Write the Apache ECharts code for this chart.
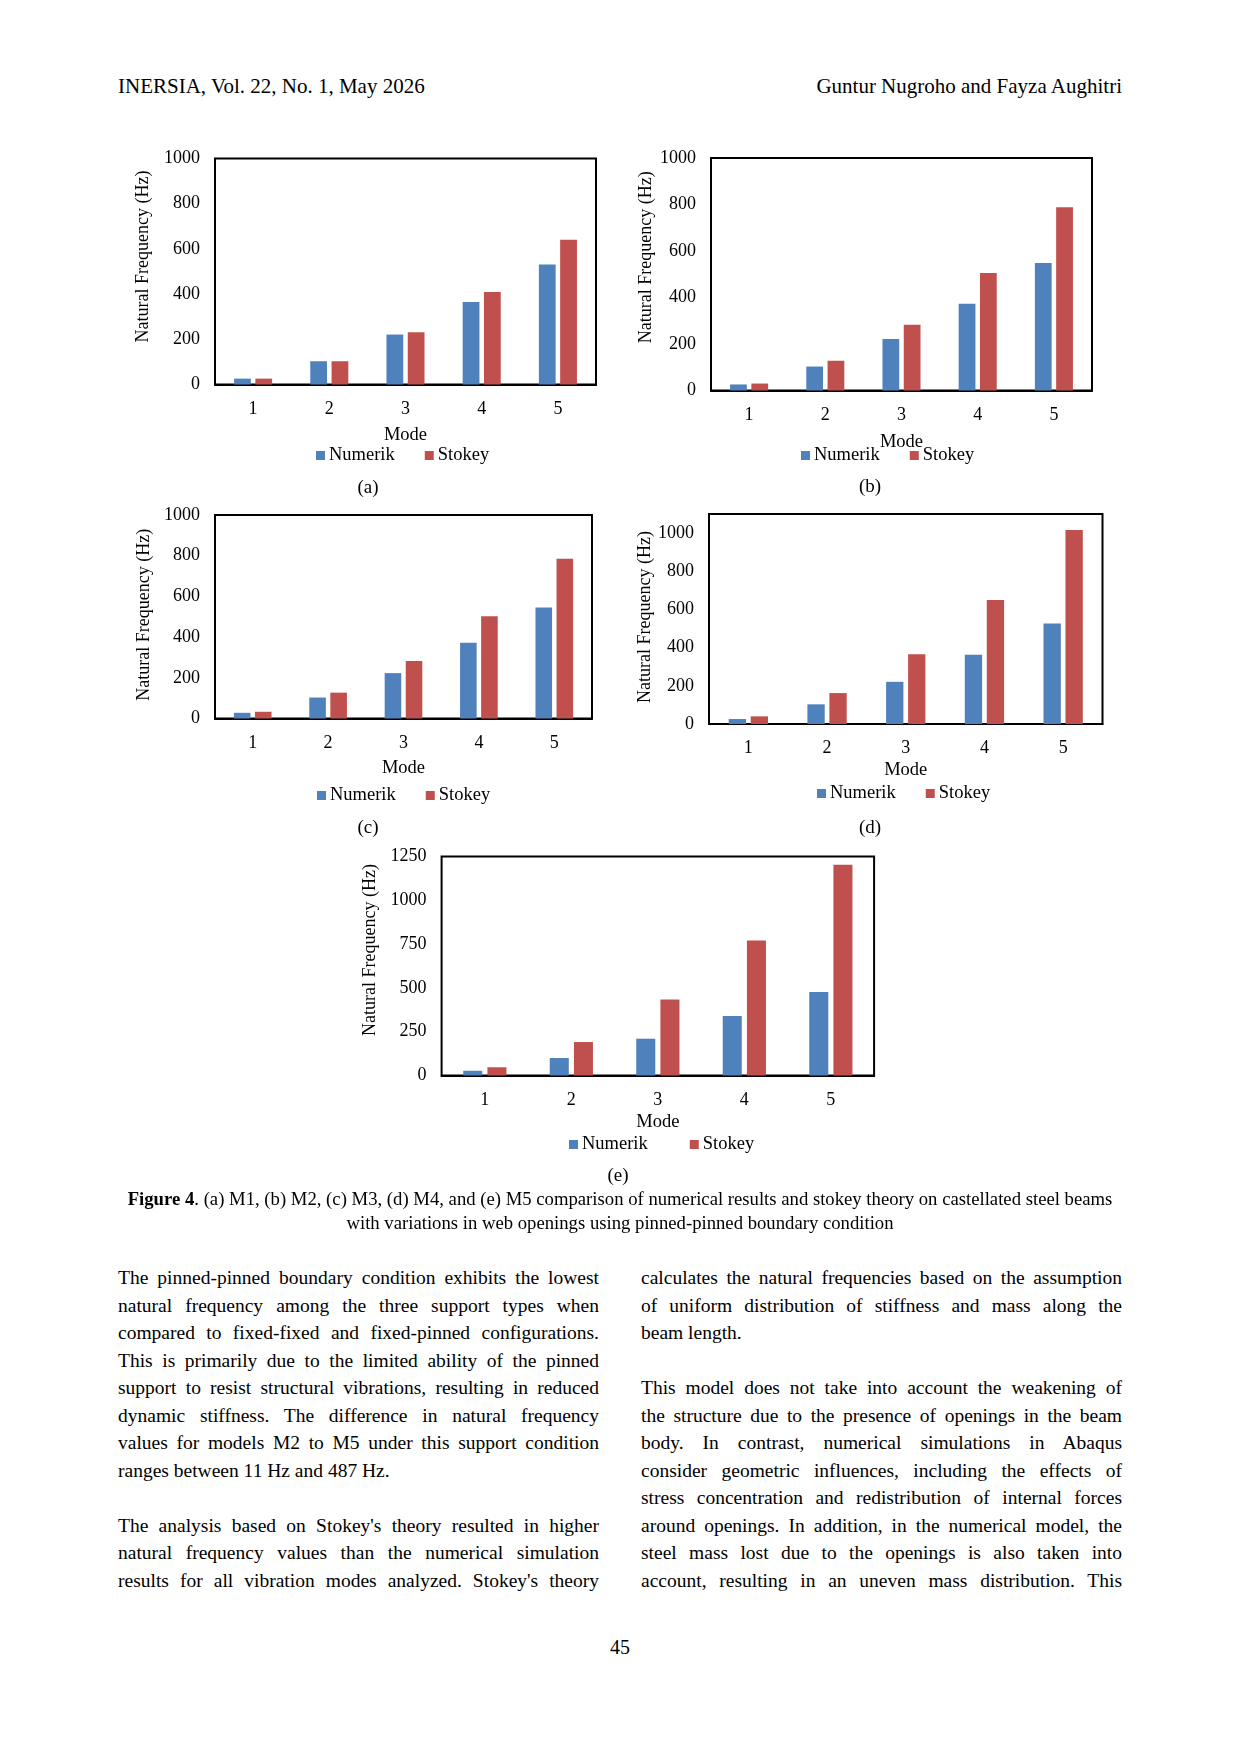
<!DOCTYPE html>
<html>
<head>
<meta charset="utf-8">
<title>Figure 4</title>
<script src="https://cdn.jsdelivr.net/npm/echarts@6/dist/echarts.min.js"></script>
<style>
  html, body { margin: 0; padding: 0; background: #fff; }
  body { width: 1240px; height: 1754px; position: relative; font-family: 'Liberation Serif', 'Times New Roman', serif; color: #000; }
  #chart { position: absolute; left: 0; top: 0; width: 1240px; height: 1200px; }
  .txt { position: absolute; white-space: nowrap; }
  .col { position: absolute; width: 481px; font-size: 19.5px; line-height: 27.5px; }
  .col div { height: 27.5px; text-align: justify; text-align-last: justify; }
  .col div.end { text-align-last: left; }
  .cap { position: absolute; left: 0; width: 1240px; text-align: center; font-size: 18.7px; }
</style>
</head>
<body>
<div class="txt" style="left:118px; top:74px; font-size:21px;">INERSIA, Vol. 22, No. 1, May 2026</div>
<div class="txt" style="right:118px; top:74px; font-size:21px;">Guntur Nugroho and Fayza Aughitri</div>

<div id="chart"></div>

<div class="cap" style="top:1188px;"><b>Figure 4</b>. (a) M1, (b) M2, (c) M3, (d) M4, and (e) M5 comparison of numerical results and stokey theory on castellated steel beams</div>
<div class="cap" style="top:1212px;">with variations in web openings using pinned-pinned boundary condition</div>

<div class="col" style="left:118px; top:1264px;">
  <div>The pinned-pinned boundary condition exhibits the lowest</div>
  <div>natural frequency among the three support types when</div>
  <div>compared to fixed-fixed and fixed-pinned configurations.</div>
  <div>This is primarily due to the limited ability of the pinned</div>
  <div>support to resist structural vibrations, resulting in reduced</div>
  <div>dynamic stiffness. The difference in natural frequency</div>
  <div>values for models M2 to M5 under this support condition</div>
  <div class="end">ranges between 11 Hz and 487 Hz.</div>
  <div class="end"></div>
  <div>The analysis based on Stokey's theory resulted in higher</div>
  <div>natural frequency values than the numerical simulation</div>
  <div>results for all vibration modes analyzed. Stokey's theory</div>
</div>

<div class="col" style="left:641px; top:1264px;">
  <div>calculates the natural frequencies based on the assumption</div>
  <div>of uniform distribution of stiffness and mass along the</div>
  <div class="end">beam length.</div>
  <div class="end"></div>
  <div>This model does not take into account the weakening of</div>
  <div>the structure due to the presence of openings in the beam</div>
  <div>body. In contrast, numerical simulations in Abaqus</div>
  <div>consider geometric influences, including the effects of</div>
  <div>stress concentration and redistribution of internal forces</div>
  <div>around openings. In addition, in the numerical model, the</div>
  <div>steel mass lost due to the openings is also taken into</div>
  <div>account, resulting in an uneven mass distribution. This</div>
</div>

<div class="txt" style="left:0; width:1240px; text-align:center; top:1636px; font-size:20px;">45</div>

<script>
// data (Hz)
var modes = ['1', '2', '3', '4', '5']
var numerikA = [26, 103, 221, 365, 531]
var stokeyA = [26, 103, 231, 409, 640]
var numerikB = [26, 103, 222, 373, 548]
var stokeyB = [30, 128, 283, 505, 788]
var numerikC = [28, 103, 223, 372, 546]
var stokeyC = [33, 127, 282, 502, 785]
var numerikD = [26, 103, 221, 363, 527]
var stokeyD = [40, 162, 365, 650, 1016]
var numerikE = [27, 100, 210, 339, 477]
var stokeyE = [47, 191, 434, 771, 1203]
var yMax = [1000, 1000, 1000, 1100, 1250]
var yStep = [200, 200, 200, 200, 250]
var panelLabels = ['(a)', '(b)', '(c)', '(d)', '(e)']

var FONT = 'Liberation Serif'
var BLUE = '#4F81BD'
var RED = '#C0504D'

// layout of each panel on the page
var panels = [
  { num: numerikA, sto: stokeyA, grid: [215, 158.5, 381, 226], modeGap: 41, nameGap: 63, nameShift: 30, legend: [316, 455], cap: [368, 488] },
  { num: numerikB, sto: stokeyB, grid: [711, 158, 381, 232.5], modeGap: 42, nameGap: 56, nameShift: 34, legend: [801, 455], cap: [870, 487] },
  { num: numerikC, sto: stokeyC, grid: [215, 515, 377, 203.5], modeGap: 40, nameGap: 62, nameShift: 4, legend: [317, 795], cap: [368, 828] },
  { num: numerikD, sto: stokeyD, grid: [709, 514, 393.5, 210], modeGap: 37, nameGap: 54, nameShift: 4, legend: [817, 793], cap: [870, 828] },
  { num: numerikE, sto: stokeyE, grid: [441.6, 856.5, 432.5, 219], modeGap: 37, nameGap: 62, nameShift: 32, legend: [569, 1144], cap: [618, 1176], legendGap: 42 }
]

var chart = echarts.init(document.getElementById('chart'))

var grids = []
var xAxes = []
var yAxes = []
var series = []
var legends = []
var texts = []

panels.forEach(function (p, i) {
  grids.push({
    left: p.grid[0], top: p.grid[1], width: p.grid[2], height: p.grid[3],
    show: true, borderColor: '#000', borderWidth: 2
  })
  xAxes.push({
    gridIndex: i,
    type: 'category',
    data: modes,
    name: 'Mode',
    nameLocation: 'middle',
    nameGap: p.modeGap,
    nameTextStyle: { fontFamily: FONT, fontSize: 18.5, color: '#000' },
    axisLine: { lineStyle: { color: '#000', width: 2 } },
    axisTick: { show: false },
    axisLabel: { fontFamily: FONT, fontSize: 18, color: '#000', margin: 15.5 }
  })
  yAxes.push({
    gridIndex: i,
    type: 'value',
    min: 0,
    max: yMax[i],
    interval: yStep[i],
    name: 'Natural Frequency (Hz)',
    nameLocation: 'middle',
    nameRotate: 90,
    nameGap: p.nameGap,
    nameTextStyle: { fontFamily: FONT, fontSize: 18, color: '#000', padding: [0, 0, 0, p.nameShift] },
    axisLine: { show: false },
    axisTick: { show: false },
    splitLine: { show: false },
    axisLabel: {
      fontFamily: FONT, fontSize: 18, color: '#000', margin: 15,
      showMaxLabel: yMax[i] % yStep[i] === 0,
      formatter: function (v) { return String(v) }
    }
  })
  series.push({
    name: 'Numerik', type: 'bar', xAxisIndex: i, yAxisIndex: i,
    data: p.num, barWidth: '22%', barGap: '27%',
    itemStyle: { color: BLUE }
  })
  series.push({
    name: 'Stokey', type: 'bar', xAxisIndex: i, yAxisIndex: i,
    data: p.sto, barWidth: '22%', barGap: '27%',
    itemStyle: { color: RED }
  })
  legends.push({
    data: ['Numerik', 'Stokey'],
    left: p.legend[0],
    top: p.legend[1] - 9,
    padding: 0,
    icon: 'rect',
    itemWidth: 9,
    itemHeight: 9,
    itemGap: p.legendGap || 30,
    textStyle: { fontFamily: FONT, fontSize: 18.5, color: '#000', padding: [0, 0, 0, -1] }
  })
  texts.push({
    type: 'text',
    x: p.cap[0],
    y: p.cap[1],
    style: { text: panelLabels[i], font: '19px "' + FONT + '"', fill: '#000', textAlign: 'center', textVerticalAlign: 'middle' }
  })
})

chart.setOption({
  animation: false,
  grid: grids,
  xAxis: xAxes,
  yAxis: yAxes,
  legend: legends,
  series: series,
  graphic: texts
})
</script>
</body>
</html>
